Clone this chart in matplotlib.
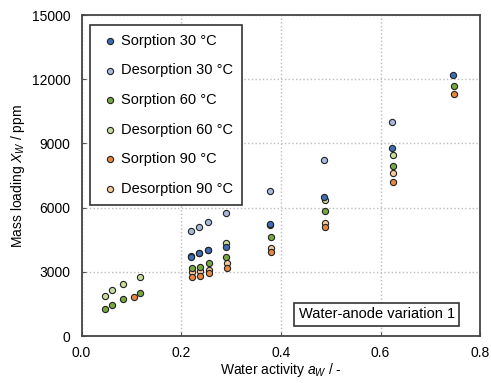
import matplotlib.pyplot as plt

plt.rcParams["font.family"] = ["Liberation Sans", "DejaVu Sans"]
plt.rcParams["mathtext.fontset"] = "custom"
plt.rcParams["mathtext.rm"] = "Liberation Sans"
plt.rcParams["mathtext.it"] = "Liberation Sans:italic"

# ── Data ──────────────────────────────────────────────────────────────
sorp30_aw = [0.219, 0.235, 0.253, 0.289, 0.379, 0.487, 0.623, 0.746]
sorp30_x = [3700, 3880, 4010, 4150, 5220, 6510, 8770, 12210]
desorp30_aw = [0.219, 0.235, 0.253, 0.289, 0.379, 0.487, 0.623]
desorp30_x = [4910, 5080, 5310, 5730, 6780, 8210, 10000]

sorp60_aw = [0.047, 0.061, 0.084, 0.117, 0.221, 0.238, 0.255, 0.289, 0.380, 0.488, 0.625, 0.747]
sorp60_x = [1280, 1460, 1720, 2010, 3160, 3240, 3400, 3680, 4640, 5860, 7960, 11700]
desorp60_aw = [0.047, 0.061, 0.084, 0.117, 0.220, 0.236, 0.254, 0.289, 0.379, 0.488, 0.625]
desorp60_x = [1880, 2140, 2430, 2740, 3720, 3900, 4030, 4330, 5190, 6350, 8460]

sorp90_aw = [0.105, 0.221, 0.238, 0.255, 0.291, 0.381, 0.489, 0.626, 0.747]
sorp90_x = [1820, 2740, 2800, 2930, 3160, 3940, 5110, 7210, 11310]
desorp90_aw = [0.221, 0.238, 0.255, 0.291, 0.381, 0.489, 0.626]
desorp90_x = [3000, 3040, 3090, 3400, 4100, 5300, 7630]

SERIES = [
    ("Sorption 30 °C", sorp30_aw, sorp30_x, "#3f6db3"),
    ("Desorption 30 °C", desorp30_aw, desorp30_x, "#a9b9dc"),
    ("Sorption 60 °C", sorp60_aw, sorp60_x, "#78a842"),
    ("Desorption 60 °C", desorp60_aw, desorp60_x, "#c8dd9c"),
    ("Sorption 90 °C", sorp90_aw, sorp90_x, "#e8873f"),
    ("Desorption 90 °C", desorp90_aw, desorp90_x, "#f5c99c"),
]

fig = plt.figure(figsize=(4.91, 3.83), dpi=100)
ax = fig.add_axes([0.166, 0.1227, 0.812, 0.838])

# draw desorption first so sorption sits on top, legend order kept via handles
handles = {}
for label, aw, xw, color in SERIES[::-1]:
    handles[label] = ax.scatter(aw, xw, s=20, color=color, edgecolors="#222222",
                                linewidths=0.8, label=label, zorder=3)

ax.set_xlim(0, 0.8)
ax.set_ylim(0, 15000)
ax.set_xticks([0.0, 0.2, 0.4, 0.6, 0.8])
ax.set_xticklabels(["0.0", "0.2", "0.4", "0.6", "0.8"])
ax.set_yticks(range(0, 15001, 3000))
ax.tick_params(direction="in", labelsize=10, color="#555555", length=3)
ax.tick_params(axis="x", pad=7)
ax.tick_params(axis="y", pad=8)
ax.grid(True, linestyle=":", color="#bbbbbb", linewidth=1)
for s in ax.spines.values():
    s.set_color("#444444")
    s.set_linewidth(1.3)

ax.set_xlabel(r"Water activity $a_W$ / -", fontsize=10, labelpad=1)
ax.set_ylabel(r"Mass loading $X_W$ / ppm", fontsize=10, labelpad=3)

leg = ax.legend([handles[s[0]] for s in SERIES], [s[0] for s in SERIES],
                loc="upper left", bbox_to_anchor=(0.022, 0.969), fontsize=10.5,
                fancybox=False, framealpha=1, edgecolor="#333333",
                handletextpad=0.0, labelspacing=1.07, borderpad=0.6,
                handlelength=1.5, borderaxespad=0)
leg.get_frame().set_linewidth(1.2)

ax.text(0.741, 0.068, "Water-anode variation 1", transform=ax.transAxes,
        ha="center", va="center", fontsize=10.5,
        bbox=dict(boxstyle="square,pad=0.3", fc="white", ec="#333333", lw=1.2))

fig.savefig("out.png", dpi=100)
